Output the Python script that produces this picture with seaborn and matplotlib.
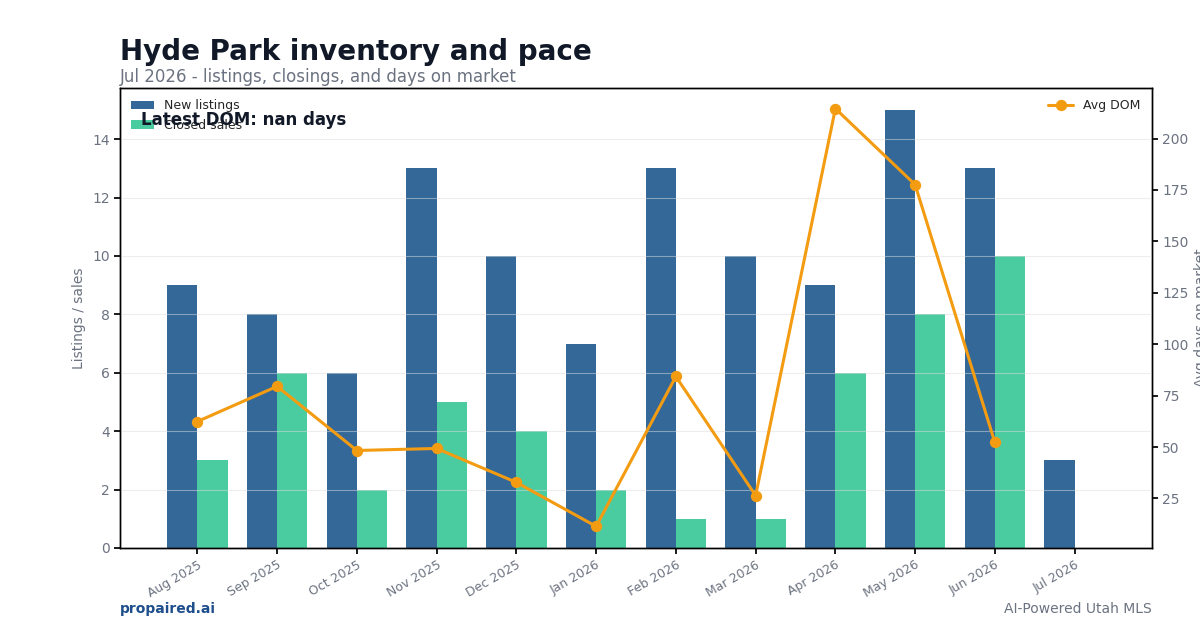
import numpy as np
import pandas as pd
import matplotlib
matplotlib.use("Agg")
import matplotlib.pyplot as plt
import seaborn as sns

months = ["Aug 2025", "Sep 2025", "Oct 2025", "Nov 2025", "Dec 2025", "Jan 2026",
          "Feb 2026", "Mar 2026", "Apr 2026", "May 2026", "Jun 2026", "Jul 2026"]
new_listings = [9, 8, 6, 13, 10, 7, 13, 10, 9, 15, 13, 3]
closed_sales = [3, 6, 2, 5, 4, 2, 1, 1, 6, 8, 10, 0]
avg_dom = [62.4, 79.5, 48.3, 49.3, 32.8, 11.4, 84.3, 26.4, 214.6, 177.6, 52.2, np.nan]

C_NEW = "#336899"
C_CLOSED = "#4bcba0"
C_DOM = "#f39c12"
GRAY = "#6b7280"
DARK = "#111827"

sns.set_theme(style="ticks", rc={"axes.edgecolor": "black", "axes.linewidth": 1.0})
plt.rcParams['font.family'] = ['DejaVu Sans']

bars = pd.DataFrame({
    "month": months * 2,
    "count": new_listings + closed_sales,
    "series": ["New listings"] * len(months) + ["Closed sales"] * len(months),
})
dom = pd.DataFrame({"month": months, "dom": avg_dom})

fig = plt.figure(figsize=(12, 6.3), dpi=100)
ax = fig.add_axes([0.1, 0.1302, 0.86, 0.7301])

sns.barplot(data=bars, x="month", y="count", hue="series", order=months,
            hue_order=["New listings", "Closed sales"],
            palette=[C_NEW, C_CLOSED], width=0.76, gap=0, saturation=1,
            errorbar=None, ax=ax, zorder=2, linewidth=0, edgecolor="none")

ax2 = ax.twinx()
sns.pointplot(data=dom, x="month", y="dom", order=months, color=C_DOM,
              errorbar=None, ax=ax2, markersize=6.5, linewidth=2.2,
              label="Avg DOM")

ax.set_xlim(-0.97, len(months) - 1 + 0.97)
ax.set_ylim(0, 15.75)
ax2.set_ylim(0.9, 224.6)

ax.set_xticks(range(len(months)))
ax.set_xticklabels(months, rotation=30, ha="right", rotation_mode="anchor")
ax.tick_params(axis="x", labelsize=9, colors=GRAY, length=4)
ax.tick_params(axis="y", labelsize=10, colors=GRAY, length=4)
ax2.tick_params(axis="y", labelsize=10, colors=GRAY, length=4)
for t in ax.get_xticklabels():
    t.set_color(GRAY)
for lab in ax.get_yticklabels() + ax2.get_yticklabels():
    lab.set_color(GRAY)
for a in (ax, ax2):
    a.tick_params(axis="both", color="black")

ax.set_xlabel("")
ax.set_ylabel("Listings / sales", fontsize=10, color=GRAY)
ax2.set_ylabel("Avg days on market", fontsize=10, color=GRAY)

ax.set_axisbelow(False)
ax.yaxis.grid(True, color="#dddddd", alpha=0.5, linewidth=0.8, zorder=3)
ax2.grid(False)

for s in ax.spines.values():
    s.set_visible(True)
    s.set_color("black")
for s in ax2.spines.values():
    s.set_visible(True)
    s.set_color("black")

h1, l1 = ax.get_legend_handles_labels()
ax.legend(h1, l1, loc="upper left", frameon=False, fontsize=9,
          handlelength=1.8, borderaxespad=0.5)
h2, l2 = ax2.get_legend_handles_labels()
if not h2:
    h2 = [ax2.lines[0]]
ax2.legend(h2[:1], ["Avg DOM"], loc="upper right", frameon=False, fontsize=9,
           handlelength=2.0, borderaxespad=0.5)

latest = avg_dom[-1]
ax.text(0.02, 0.93, f"Latest DOM: {latest:.0f} days" if not np.isnan(latest) else "Latest DOM: nan days",
        transform=ax.transAxes, fontsize=12, fontweight="bold", color=DARK,
        va="center", ha="left", zorder=10)

fig.text(0.1, 1 - 52 / 630, "Hyde Park inventory and pace", fontsize=20,
         fontweight="bold", color=DARK, va="center", ha="left")
fig.text(0.1, 1 - 77 / 630, "Jul 2026 - listings, closings, and days on market",
         fontsize=12, color=GRAY, va="center", ha="left")
fig.text(0.1, 1 - 609 / 630, "propaired.ai", fontsize=10, fontweight="bold",
         color="#1e4e8c", va="center", ha="left")
fig.text(0.96, 1 - 609 / 630, "AI-Powered Utah MLS", fontsize=10,
         color=GRAY, va="center", ha="right")

fig.savefig("out.png", dpi=100)
